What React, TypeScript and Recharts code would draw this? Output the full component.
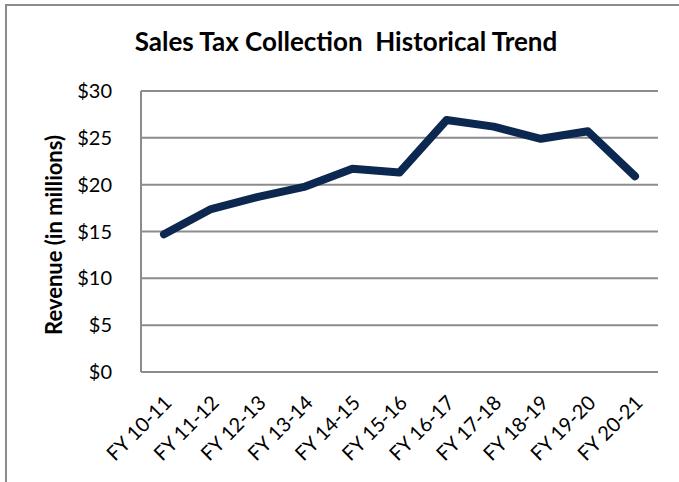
import React from 'react';
import { LineChart, Line, XAxis, YAxis, CartesianGrid } from 'recharts';

const categories = ['FY 10-11', 'FY 11-12', 'FY 12-13', 'FY 13-14', 'FY 14-15', 'FY 15-16', 'FY 16-17', 'FY 17-18', 'FY 18-19', 'FY 19-20', 'FY 20-21'];
const revenue = [14.7, 17.4, 18.7, 19.8, 21.7, 21.3, 26.9, 26.2, 24.9, 25.7, 20.9];
const yTicks = [0, 5, 10, 15, 20, 25, 30];

const data = categories.map((c, i) => ({ name: c, value: revenue[i] }));
const FONT = 'Lato, "Open Sans", sans-serif';
const GREY = '#8c8c8c';

const XTick = (props: any) => {
  const { x, y, payload } = props;
  const ax = x + 9;
  const ay = y + 24;
  return (
    <text x={ax} y={ay} transform={`rotate(-45 ${ax} ${ay})`} textAnchor="end" fontSize={20} fill="#000" fontFamily={FONT}>
      {payload.value}
    </text>
  );
};

export default function App() {
  return (
    <div style={{ position: 'absolute', left: 0, top: 0, width: 679, height: 482, background: '#fff', fontFamily: FONT }}>
      <div style={{ position: 'absolute', left: 5, top: 4, width: 674, height: 2, background: GREY }} />
      <div style={{ position: 'absolute', left: 5, top: 4, width: 2, height: 478, background: GREY }} />
      <div style={{ position: 'absolute', left: 0, width: 692, top: 25, textAlign: 'center', fontWeight: 700, fontSize: 26, color: '#000' }}>
        Sales Tax Collection&nbsp;&nbsp;Historical Trend
      </div>
      <div style={{ position: 'absolute', left: 53, top: 235, transform: 'translate(-50%, -50%) rotate(-90deg)', whiteSpace: 'nowrap', fontWeight: 700, fontSize: 22, color: '#000' }}>
        Revenue (in millions)
      </div>
      <div style={{ position: 'absolute', left: 0, top: 0 }}>
        <LineChart width={679} height={482} data={data} margin={{ top: 91, right: 21, bottom: 0, left: 0 }}>
          <CartesianGrid vertical={false} stroke={GREY} strokeWidth={2} />
          <XAxis dataKey="name" height={110} tick={<XTick />} tickLine={false} axisLine={{ stroke: GREY, strokeWidth: 2 }} interval={0} padding={{ left: 23, right: 23 }} />
          <YAxis width={141} domain={[0, 30]} ticks={yTicks} tickFormatter={(v: number) => `$${v}`} tickLine={false} tickMargin={23} axisLine={{ stroke: GREY, strokeWidth: 2 }} tick={{ fontSize: 20, fill: '#000', fontFamily: FONT }} />
          <Line type="linear" dataKey="value" stroke="#0c2850" strokeWidth={8} dot={false} strokeLinecap="round" strokeLinejoin="round" isAnimationActive={false} />
        </LineChart>
      </div>
    </div>
  );
}
